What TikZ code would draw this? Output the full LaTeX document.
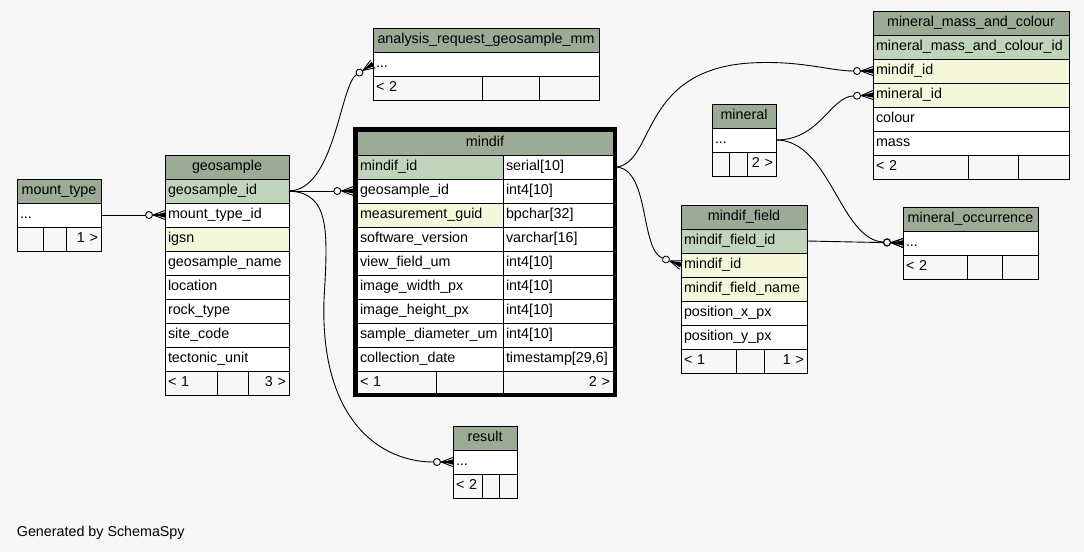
\documentclass[tikz,border=0pt]{standalone}
\usepackage{fontspec}
\setmainfont{Liberation Sans}
\usepackage{xcolor}
\usepackage{tikz}

\definecolor{headgreen}{HTML}{9CAB96}
\definecolor{keygreen}{HTML}{BFD4BB}
\definecolor{idxyellow}{HTML}{F4F7DA}
\definecolor{paper}{HTML}{F7F7F7}

% zero-or-many end (circle + crow's foot)
\pgfdeclarearrow{
  name = crowfoot,
  setup code = {
    \pgfarrowssettipend{0pt}
    \pgfarrowssetlineend{-19.5pt}
    \pgfarrowssetbackend{-19.5pt}
    \pgfarrowssetvisualbackend{-19.5pt}
    \pgfarrowshullpoint{0pt}{4.5pt}
    \pgfarrowshullpoint{0pt}{-4.5pt}
    \pgfarrowshullpoint{-19.5pt}{0pt}
  },
  drawing code = {
    \pgfsetroundjoin
    \pgfpathmoveto{\pgfpoint{0pt}{4.5pt}}
    \pgfpathlineto{\pgfpoint{-12pt}{0pt}}
    \pgfpathlineto{\pgfpoint{0pt}{-4.5pt}}
    \pgfpathmoveto{\pgfpointorigin}
    \pgfpathlineto{\pgfpoint{-12pt}{0pt}}
    \pgfusepathqstroke
    \pgfpathmoveto{\pgfpoint{-11pt}{0pt}}
    \pgfpathlineto{\pgfpoint{0pt}{2.6pt}}
    \pgfpathlineto{\pgfpoint{0pt}{-2.6pt}}
    \pgfpathclose
    \pgfusepathqfill
    \pgfpathcircle{\pgfpoint{-16pt}{0pt}}{3.5pt}
    \pgfusepathqstroke
  }
}

\begin{document}
\begin{tikzpicture}[x=1pt, y=-1pt,
  cell/.style={draw, line width=1, outer sep=0, inner xsep=3, inner ysep=0, anchor=north west,
    minimum height=24, text height=10.2, text depth=3.2, font=\fontsize{14.3}{17}\selectfont},
  head/.style={cell, fill=headgreen, align=center},
  key/.style={cell, fill=keygreen, align=left},
  idx/.style={cell, fill=idxyellow, align=left},
  col/.style={cell, fill=white, align=left},
  foot/.style={cell, fill=paper, align=left},
  footr/.style={cell, fill=paper, align=right},
  frame/.style={draw, line width=3.4, inner sep=0, anchor=north west},
  rel/.style={line width=0.9, -crowfoot}]

  % Background
  \useasboundingbox (0,0) rectangle (1084,552);
  \fill[paper] (0,0) rectangle (1084,552);

  % mount_type
  \node[head, text width=78pt] (mnt) at (17,179) {mount\_type};
  \node[col, text width=78pt] (mnt-row) at (17,203) {...};
  \node[foot, text width=20pt] (mnt-f1) at (17,227) {};
  \node[foot, text width=17pt] (mnt-f2) at (43,227) {};
  \node[footr, text width=29pt] (mnt-f3) at (66,227) {1 >};

  % geosample
  \node[head, text width=118pt] (geo) at (165,155) {geosample};
  \node[key, text width=118pt] (geo-id) at (165,179) {geosample\_id};
  \node[col, text width=118pt] (geo-mount) at (165,203) {mount\_type\_id};
  \node[idx, text width=118pt] (geo-igsn) at (165,227) {igsn};
  \node[col, text width=118pt] (geo-name) at (165,251) {geosample\_name};
  \node[col, text width=118pt] (geo-loc) at (165,275) {location};
  \node[col, text width=118pt] (geo-rock) at (165,299) {rock\_type};
  \node[col, text width=118pt] (geo-site) at (165,323) {site\_code};
  \node[col, text width=118pt] (geo-tect) at (165,347) {tectonic\_unit};
  \node[foot, text width=46pt] (geo-f1) at (165,371) {< 1};
  \node[foot, text width=25pt] (geo-f2) at (217,371) {};
  \node[footr, text width=35pt] (geo-f3) at (248,371) {3 >};

  % analysis_request_geosample_mm
  \node[head, text width=220pt] (ana) at (373,28) {analysis\_request\_geosample\_mm};
  \node[col, text width=220pt] (ana-row) at (373,52) {...};
  \node[foot, text width=103pt] (ana-f1) at (373,76) {< 2};
  \node[foot, text width=51pt] (ana-f2) at (482,76) {};
  \node[foot, text width=54pt] (ana-f3) at (539,76) {};

  % mindif
  \node[head, text width=250pt] (mdf) at (357,131) {mindif};
  \node[key, text width=140pt] (mdf-id) at (357,155) {mindif\_id};
  \node[col, text width=104pt] (mdf-id-t) at (503,155) {serial[10]};
  \node[col, text width=140pt] (mdf-geo) at (357,179) {geosample\_id};
  \node[col, text width=104pt] (mdf-geo-t) at (503,179) {int4[10]};
  \node[idx, text width=140pt] (mdf-guid) at (357,203) {measurement\_guid};
  \node[col, text width=104pt] (mdf-guid-t) at (503,203) {bpchar[32]};
  \node[col, text width=140pt] (mdf-soft) at (357,227) {software\_version};
  \node[col, text width=104pt] (mdf-soft-t) at (503,227) {varchar[16]};
  \node[col, text width=140pt] (mdf-view) at (357,251) {view\_field\_um};
  \node[col, text width=104pt] (mdf-view-t) at (503,251) {int4[10]};
  \node[col, text width=140pt] (mdf-wid) at (357,275) {image\_width\_px};
  \node[col, text width=104pt] (mdf-wid-t) at (503,275) {int4[10]};
  \node[col, text width=140pt] (mdf-hgt) at (357,299) {image\_height\_px};
  \node[col, text width=104pt] (mdf-hgt-t) at (503,299) {int4[10]};
  \node[col, text width=140pt] (mdf-diam) at (357,323) {sample\_diameter\_um};
  \node[col, text width=104pt] (mdf-diam-t) at (503,323) {int4[10]};
  \node[col, text width=140pt] (mdf-date) at (357,347) {collection\_date};
  \node[col, text width=104pt] (mdf-date-t) at (503,347) {timestamp[29,6]};
  \node[foot, text width=73pt] (mdf-f1) at (357,371) {< 1};
  \node[foot, text width=61pt] (mdf-f2) at (436,371) {};
  \node[footr, text width=104pt] (mdf-f3) at (503,371) {2 >};
  \node[frame, minimum width=260, minimum height=266] (mindif) at (353.3,127.3) {};

  % result
  \node[head, text width=58pt] (res) at (453,426) {result};
  \node[col, text width=58pt] (res-row) at (453,450) {...};
  \node[foot, text width=23pt] (res-f1) at (453,474) {< 2};
  \node[foot, text width=11pt] (res-f2) at (482,474) {};
  \node[foot, text width=12pt] (res-f3) at (499,474) {};

  % mineral_mass_and_colour
  \node[head, text width=190pt] (mmc) at (873,11) {mineral\_mass\_and\_colour};
  \node[key, text width=190pt] (mmc-id) at (873,35) {mineral\_mass\_and\_colour\_id};
  \node[idx, text width=190pt] (mmc-mindif) at (873,59) {mindif\_id};
  \node[idx, text width=190pt] (mmc-mineral) at (873,83) {mineral\_id};
  \node[col, text width=190pt] (mmc-colour) at (873,107) {colour};
  \node[col, text width=190pt] (mmc-mass) at (873,131) {mass};
  \node[foot, text width=89pt] (mmc-f1) at (873,155) {< 2};
  \node[foot, text width=44pt] (mmc-f2) at (968,155) {};
  \node[foot, text width=45pt] (mmc-f3) at (1018,155) {};

  % mineral
  \node[head, text width=58pt] (min) at (712,104) {mineral};
  \node[col, text width=58pt] (min-row) at (712,128) {...};
  \node[foot, text width=11pt] (min-f1) at (712,152) {};
  \node[foot, text width=12pt] (min-f2) at (729,152) {};
  \node[footr, text width=23pt] (min-f3) at (747,152) {2 >};

  % mindif_field
  \node[head, text width=120pt] (fld) at (681,205) {mindif\_field};
  \node[key, text width=120pt] (fld-id) at (681,229) {mindif\_field\_id};
  \node[idx, text width=120pt] (fld-mindif) at (681,253) {mindif\_id};
  \node[idx, text width=120pt] (fld-name) at (681,277) {mindif\_field\_name};
  \node[col, text width=120pt] (fld-x) at (681,301) {position\_x\_px};
  \node[col, text width=120pt] (fld-y) at (681,325) {position\_y\_px};
  \node[foot, text width=49pt] (fld-f1) at (681,349) {< 1};
  \node[foot, text width=22pt] (fld-f2) at (736,349) {};
  \node[footr, text width=37pt] (fld-f3) at (764,349) {1 >};

  % mineral_occurrence
  \node[head, text width=129pt] (occ) at (903,207) {mineral\_occurrence};
  \node[col, text width=129pt] (occ-row) at (903,231) {...};
  \node[foot, text width=58pt] (occ-f1) at (903,255) {< 2};
  \node[foot, text width=29pt] (occ-f2) at (967,255) {};
  \node[foot, text width=30pt] (occ-f3) at (1002,255) {};

  % Relations
  \draw[rel] (mnt-row.east) -- (geo-mount.west);
  \draw[rel] (geo-id.east) -- (mindif.west |- mdf-geo.west);
  \draw[rel] (geo-id.east) .. controls (335,190) and (340,85) .. (ana-row.west);
  \draw[rel] (geo-id.east) .. controls (330,193) and (328,230) .. (324,300)
    .. controls (320,420) and (380,462) .. (res-row.west);
  \draw[rel] (mindif.east |- mdf-id.east) .. controls (655,162) and (640,70) .. (750,63)
    .. controls (800,60) and (830,71) .. (mmc-mindif.west);
  \draw[rel] (mindif.east |- mdf-id.east) .. controls (650,170) and (640,250) .. (fld-mindif.west);
  \draw[rel] (min-row.east) .. controls (820,140) and (830,97) .. (mmc-mineral.west);
  \draw[rel] (min-row.east) .. controls (830,140) and (840,240) .. (occ-row.west);
  \draw[rel] (fld-id.east) -- (occ-row.west);

  % Footer
  \node[anchor=base west, inner sep=0, font=\fontsize{14.3}{17}\selectfont] (credit) at (16.7,536.7) {Generated by SchemaSpy};
\end{tikzpicture}
\end{document}
